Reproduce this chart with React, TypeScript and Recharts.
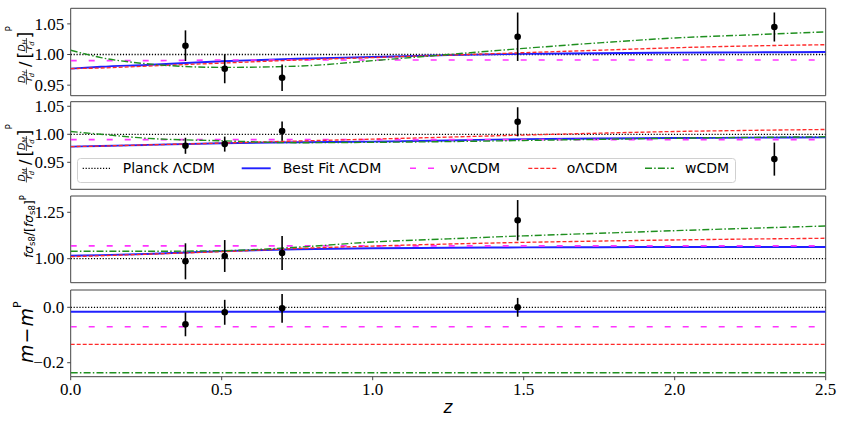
import React from 'react';
import { ComposedChart, Line, Scatter, XAxis, YAxis, ErrorBar, ReferenceArea, Legend } from 'recharts';

// ---------- data ----------
const zGrid = [0, 0.1, 0.25, 0.5, 0.75, 1.0, 1.25, 1.5, 1.75, 2.0, 2.25, 2.5];
const zFlat = [0, 2.5];
const xTicks = [0, 0.5, 1.0, 1.5, 2.0, 2.5];

const modelNames = ['Planck ΛCDM', 'Best Fit ΛCDM', 'νΛCDM', 'oΛCDM', 'wCDM'];

// Panel 1: D_H / r_d relative to Planck
const dhPlanck = [1.0, 1.0];
const dhBest = [0.977, 0.980, 0.983, 0.989, 0.993, 0.996, 0.999, 1.001, 1.002, 1.003, 1.0035, 1.004];
const dhNu = [0.990, 0.990, 0.990, 0.991, 0.991, 0.991, 0.991, 0.991, 0.991, 0.991, 0.991, 0.991];
const dhO = [0.977, 0.978, 0.981, 0.986, 0.991, 0.995, 0.999, 1.003, 1.007, 1.011, 1.014, 1.016];
const dhW = [1.007, 0.995, 0.985, 0.979, 0.981, 0.990, 1.000, 1.010, 1.019, 1.027, 1.032, 1.037];
const baoZ = [0.38, 0.51, 0.70, 1.48, 2.33];
const dhObs = [1.0144, 0.9768, 0.9622, 1.029, 1.0449];
const dhErr = [0.025, 0.0237, 0.0217, 0.0395, 0.0237];

// Panel 2: D_M / r_d relative to Planck
const dmPlanck = [1.0, 1.0];
const dmBest = [0.978, 0.979, 0.981, 0.984, 0.9857, 0.987, 0.989, 0.9914, 0.9925, 0.9933, 0.994, 0.9945];
const dmNu = [0.9905, 0.9905, 0.9905, 0.9905, 0.9905, 0.9905, 0.9905, 0.9905, 0.9905, 0.9905, 0.9905, 0.9905];
const dmO = [0.978, 0.979, 0.981, 0.9843, 0.988, 0.9914, 0.995, 0.9986, 1.002, 1.005, 1.007, 1.0086];
const dmW = [1.005, 1.0, 0.993, 0.9884, 0.985, 0.9857, 0.987, 0.989, 0.991, 0.993, 0.9945, 0.9955];
const dmObs = [0.9795, 0.9825, 1.0057, 1.0223, 0.9557];
const dmErr = [0.0143, 0.0134, 0.017, 0.026, 0.0295];

// Panel 3: f sigma_s8 relative to Planck
const fsPlanck = [1.0, 1.0];
const fsBest = [1.016, 1.019, 1.025, 1.041, 1.051, 1.056, 1.059, 1.061, 1.062, 1.063, 1.063, 1.063];
const fsNu = [1.069, 1.069, 1.069, 1.069, 1.069, 1.069, 1.069, 1.069, 1.069, 1.069, 1.069, 1.069];
const fsO = [1.011, 1.016, 1.024, 1.038, 1.055, 1.068, 1.079, 1.088, 1.095, 1.101, 1.106, 1.110];
const fsW = [1.040, 1.040, 1.040, 1.043, 1.062, 1.090, 1.107, 1.123, 1.137, 1.151, 1.164, 1.176];
const fsZ = [0.38, 0.51, 0.70, 1.48];
const fsObs = [0.986, 1.0145, 1.0307, 1.207];
const fsErr = [0.097, 0.086, 0.0916, 0.109];

// Panel 4: m - m^P
const mPlanck = [0.0, 0.0];
const mBest = [-0.016, -0.016];
const mNu = [-0.070, -0.070];
const mO = [-0.134, -0.134];
const mW = [-0.236, -0.236];
const mZ = [0.38, 0.51, 0.70, 1.48];
const mObs = [-0.0615, -0.018, -0.0036, 0.0];
const mErr = [0.043, 0.045, 0.052, 0.034];

// ---------- styles ----------
const W = 842;
const H = 423;
const SPINE = '#444';
const modelStyles = [
  { color: '#000000', width: 1.3, dash: '1.2 1.7' },
  { color: '#2020ff', width: 1.9, dash: undefined as string | undefined },
  { color: '#ff33ff', width: 1.6, dash: '6 12' },
  { color: '#ff2a2a', width: 1.35, dash: '4 2' },
  { color: '#1f8f1f', width: 1.4, dash: '7 2.2 1.5 2.2' },
];

const toPts = (xs: number[], ys: number[]) => xs.map((z, i) => ({ z, y: ys[i] }));
const toObs = (xs: number[], ys: number[], es: number[]) => xs.map((z, i) => ({ z, y: ys[i], err: es[i] }));

const mathFont = 'DejaVu Sans';
const tickFont = "'Liberation Serif', 'Times New Roman', 'DejaVu Serif', serif";

// custom tick renderers (serif, like the reference)
const makeYTick = (fmt: (v: number) => string) => (p: any) => (
  <text x={p.x} y={p.y} dy="0.34em" textAnchor="end" style={{ fontFamily: tickFont, fontSize: 17 }} fill="#000">
    {fmt(p.payload.value)}
  </text>
);
const xTickRenderer = (p: any) => (
  <text x={p.x} y={p.y} dy="0.72em" textAnchor="middle" style={{ fontFamily: tickFont, fontSize: 17 }} fill="#000">
    {Number(p.payload.value).toFixed(1)}
  </text>
);

// rotated fraction label parts (local rotated frame)
function Frac({ cx, sub }: { cx: number; sub: string }) {
  return (
    <g fontFamily={mathFont} fontStyle="italic" fill="#000">
      <text x={cx} y={-6} textAnchor="middle" fontSize={9.4}>
        D<tspan fontSize={6.6} dy={1.6}>{sub}</tspan>
      </text>
      <line x1={cx - 7.5} x2={cx + 7.5} y1={-4.6} y2={-4.6} stroke="#000" strokeWidth={0.7} />
      <text x={cx} y={1.3} textAnchor="middle" fontSize={9.4}>
        r<tspan fontSize={6.6} dy={1.6}>d</tspan>
      </text>
    </g>
  );
}

function DistLabel({ bottomY, sub }: { bottomY: number; sub: string }) {
  return (
    <g transform={`translate(31, ${bottomY}) rotate(-90)`}>
      <Frac cx={10} sub={sub} />
      <text x={20} y={0} fontSize={16} fontFamily={mathFont}>/</text>
      <text x={28.5} y={0} fontSize={17} fontFamily={mathFont}>[</text>
      <Frac cx={41.5} sub={sub} />
      <text x={48.5} y={0} fontSize={17} fontFamily={mathFont}>]</text>
      <text x={55.5} y={-19} fontSize={9} fontFamily={mathFont}>P</text>
    </g>
  );
}

function FsLabel() {
  return (
    <g transform="translate(33, 258) rotate(-90)">
      <text x={0} y={0} fontSize={12.3} fontFamily={mathFont} fill="#000">
        <tspan fontStyle="italic">fσ</tspan>
        <tspan fontSize={8.5} dy={2.3}>s8</tspan>
        <tspan dy={-2.3}>/[</tspan>
        <tspan fontStyle="italic">fσ</tspan>
        <tspan fontSize={8.5} dy={2.3}>s8</tspan>
        <tspan dy={-2.3}>]</tspan>
        <tspan fontSize={8.5} dy={-7}>P</tspan>
      </text>
    </g>
  );
}

function MLabel() {
  return (
    <g transform="translate(33, 363) rotate(-90)">
      <text x={0} y={0} fontSize={19} fontFamily={mathFont} fill="#000">
        <tspan fontStyle="italic">m</tspan>
        <tspan dx={1}>−</tspan>
        <tspan dx={1} fontStyle="italic">m</tspan>
        <tspan fontSize={11} dy={-12}>P</tspan>
      </text>
    </g>
  );
}

const legendHandleX = [5.7, 164.7, 333, 451.3, 568];
const legendTextX = [45.7, 205.7, 373, 489.7, 608];

function LegendBox() {
  return (
    <svg width={659} height={25} style={{ display: 'block', overflow: 'visible' }}>
      <rect x={0.5} y={0.5} width={658} height={24} rx={3} fill="#fff" fillOpacity={0.85} stroke="#d0d0d0" strokeWidth={1} />
      {modelNames.map((name, i) => (
        <g key={name}>
          <line
            x1={legendHandleX[i]}
            x2={legendHandleX[i] + 29}
            y1={10.3}
            y2={10.3}
            stroke={modelStyles[i].color}
            strokeWidth={modelStyles[i].width}
            strokeDasharray={modelStyles[i].dash}
          />
          <text x={legendTextX[i]} y={15.4} fontSize={14} fontFamily={mathFont} fill="#000">
            {name}
          </text>
        </g>
      ))}
    </svg>
  );
}

const dotShape = (p: any) => <circle cx={p.cx} cy={p.cy} r={3.3} fill="#000" />;

type PanelProps = {
  top: number;
  bottom: number;
  domain: [number, number];
  yTicks: number[];
  fmt: (v: number) => string;
  curves: { z: number; y: number }[][];
  obs: { z: number; y: number; err: number }[];
  showX: boolean;
  label: React.ReactElement;
  legend?: boolean;
};

function Panel({ top, bottom, domain, yTicks, fmt, curves, obs, showX, label, legend }: PanelProps) {
  const xAxisH = showX ? 40 : 5;
  const margin = { top, right: W - 825.7, left: 0.7, bottom: H - bottom - xAxisH };
  return (
    <div style={{ position: 'absolute', left: 0, top: 0, width: W, height: H }}>
      <ComposedChart width={W} height={H} margin={margin}>
        <XAxis
          type="number"
          dataKey="z"
          domain={[0, 2.5]}
          ticks={xTicks}
          allowDataOverflow
          axisLine={false}
          tickLine={{ stroke: SPINE, strokeWidth: 1 }}
          tickSize={3.5}
          tickMargin={2.5}
          height={xAxisH}
          tick={showX ? xTickRenderer : false}
          label={
            showX
              ? {
                  content: () => (
                    <text x={448} y={413} fontSize={17} fontStyle="italic" fontFamily={mathFont} textAnchor="middle" fill="#000">
                      z
                    </text>
                  ),
                }
              : undefined
          }
        />
        <YAxis
          type="number"
          domain={domain}
          ticks={yTicks}
          allowDataOverflow
          width={70}
          axisLine={false}
          tickLine={{ stroke: SPINE, strokeWidth: 1 }}
          tickSize={3.5}
          tickMargin={3}
          tick={makeYTick(fmt)}
          label={{ content: () => label }}
        />
        <ReferenceArea
          x1={0}
          x2={2.5}
          y1={domain[0]}
          y2={domain[1]}
          fill="none"
          stroke={SPINE}
          strokeWidth={1}
          ifOverflow="visible"
        />
        {curves.map((c, i) => (
          <Line
            key={i}
            data={c}
            dataKey="y"
            type="monotone"
            dot={false}
            activeDot={false}
            isAnimationActive={false}
            stroke={modelStyles[i].color}
            strokeWidth={modelStyles[i].width}
            strokeDasharray={modelStyles[i].dash}
          />
        ))}
        <Scatter data={obs} dataKey="y" shape={dotShape} isAnimationActive={false}>
          <ErrorBar dataKey="err" direction="y" width={0} stroke="#000" strokeWidth={1.6} isAnimationActive={false} />
        </Scatter>
        {legend ? (
          <Legend
            layout="horizontal"
            verticalAlign="middle"
            align="center"
            wrapperStyle={{ position: 'absolute', left: 77, top: 158, width: 659, height: 25 }}
            content={() => <LegendBox />}
          />
        ) : null}
      </ComposedChart>
    </div>
  );
}

const fmt2 = (v: number) => v.toFixed(2);
const fmtM = (v: number) => (v < 0 ? '−' : '') + Math.abs(v).toFixed(1);

export default function App() {
  return (
    <div style={{ position: 'absolute', left: 0, top: 0, width: W, height: H, background: '#fff' }}>
      <Panel
        top={8.3}
        bottom={95.7}
        domain={[0.9328, 1.0754]}
        yTicks={[0.95, 1.0, 1.05]}
        fmt={fmt2}
        curves={[toPts(zFlat, dhPlanck), toPts(zGrid, dhBest), toPts(zGrid, dhNu), toPts(zGrid, dhO), toPts(zGrid, dhW)]}
        obs={toObs(baoZ, dhObs, dhErr)}
        showX={false}
        label={<DistLabel bottomY={87} sub="H" />}
      />
      <Panel
        top={101.7}
        bottom={189.3}
        domain={[0.9018, 1.0582]}
        yTicks={[0.95, 1.0, 1.05]}
        fmt={fmt2}
        curves={[toPts(zFlat, dmPlanck), toPts(zGrid, dmBest), toPts(zGrid, dmNu), toPts(zGrid, dmO), toPts(zGrid, dmW)]}
        obs={toObs(baoZ, dmObs, dmErr)}
        showX={false}
        label={<DistLabel bottomY={185} sub="M" />}
        legend
      />
      <Panel
        top={196}
        bottom={282.7}
        domain={[0.8707, 1.3378]}
        yTicks={[1.0, 1.25]}
        fmt={fmt2}
        curves={[toPts(zFlat, fsPlanck), toPts(zGrid, fsBest), toPts(zGrid, fsNu), toPts(zGrid, fsO), toPts(zGrid, fsW)]}
        obs={toObs(fsZ, fsObs, fsErr)}
        showX={false}
        label={<FsLabel />}
      />
      <Panel
        top={290}
        bottom={376.7}
        domain={[-0.2505, 0.0625]}
        yTicks={[-0.2, 0.0]}
        fmt={fmtM}
        curves={[toPts(zFlat, mPlanck), toPts(zFlat, mBest), toPts(zFlat, mNu), toPts(zFlat, mO), toPts(zFlat, mW)]}
        obs={toObs(mZ, mObs, mErr)}
        showX={true}
        label={<MLabel />}
      />
    </div>
  );
}
